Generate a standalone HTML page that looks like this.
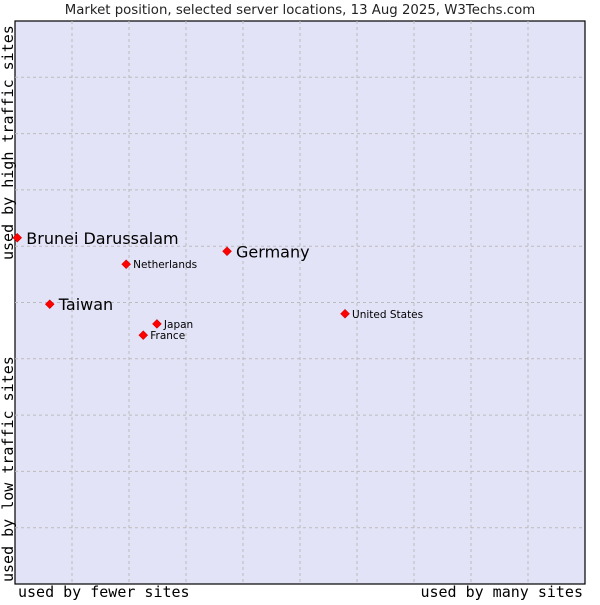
<!DOCTYPE html>
<html><head><meta charset="utf-8"><style>
body{margin:0;background:#fff;}
svg text{font-family:"DejaVu Sans","Liberation Sans",sans-serif;}
.mono{font-family:"DejaVu Sans Mono","Liberation Mono",monospace !important;font-size:15px;}
</style></head><body>
<svg id="chart" width="600" height="600" xmlns="http://www.w3.org/2000/svg">
<text x="300" y="14" text-anchor="middle" font-size="13.3" fill="#222">Market position, selected server locations, 13 Aug 2025, W3Techs.com</text>
<rect x="15" y="21" width="570" height="563" fill="#e3e3f8" stroke="#000" stroke-width="1.2"/>
<g id="grid"></g>
<g id="points"></g>
<text class="mono" x="18" y="597" fill="#000">used by fewer sites</text>
<text class="mono" x="583" y="597" text-anchor="end" fill="#000">used by many sites</text>
<text class="mono" transform="translate(13,260) rotate(-90)" fill="#000">used by high traffic sites</text>
<text class="mono" transform="translate(13,582) rotate(-90)" fill="#000">used by low traffic sites</text>
</svg>
<script>
const names = ["Brunei Darussalam","Germany","Netherlands","Taiwan","Japan","France","United States"];
const xVals = [0.04,3.72,1.95,0.61,2.49,2.25,5.79];
const yVals = [6.15,5.91,5.68,4.97,4.62,4.42,4.80];
const big = [true,true,false,true,false,false,false];
const X0=15,W=570,Y0=584,H=563;
function sx(v){return X0+v/10*W;}
function sy(v){return Y0-v/10*H;}
const NS="http://www.w3.org/2000/svg";
const grid=document.getElementById('grid');
for(let i=1;i<10;i++){
  const v=document.createElementNS(NS,'line');
  v.setAttribute('x1',sx(i));v.setAttribute('x2',sx(i));v.setAttribute('y1',21);v.setAttribute('y2',584);
  v.setAttribute('stroke','#bbb');v.setAttribute('stroke-dasharray','3,3');
  
  
  grid.appendChild(v);
  const h=document.createElementNS(NS,'line');
  h.setAttribute('y1',sy(i));h.setAttribute('y2',sy(i));h.setAttribute('x1',15);h.setAttribute('x2',585);
  h.setAttribute('stroke','#bbb');h.setAttribute('stroke-dasharray','3,3');
  
  
  grid.appendChild(h);
}
const pts=document.getElementById('points');
names.forEach((n,i)=>{
  const x=sx(xVals[i]),y=sy(yVals[i]);
  const d=document.createElementNS(NS,'path');
  d.setAttribute('d',`M${x} ${y-4.5}L${x+4.5} ${y}L${x} ${y+4.5}L${x-4.5} ${y}Z`);
  d.setAttribute('fill','#f00');d.setAttribute('stroke','#b00');d.setAttribute('stroke-width','0.5');
  
  
  pts.appendChild(d);
  const t=document.createElementNS(NS,'text');
  t.setAttribute('x',x+(big[i]?9:7));t.setAttribute('y',y+(big[i]?6:4));
  t.setAttribute('font-size',big[i]?16:10.5);t.setAttribute('fill','#000');
  t.textContent=n;
  
  
  pts.appendChild(t);
});
</script>
</body></html>
